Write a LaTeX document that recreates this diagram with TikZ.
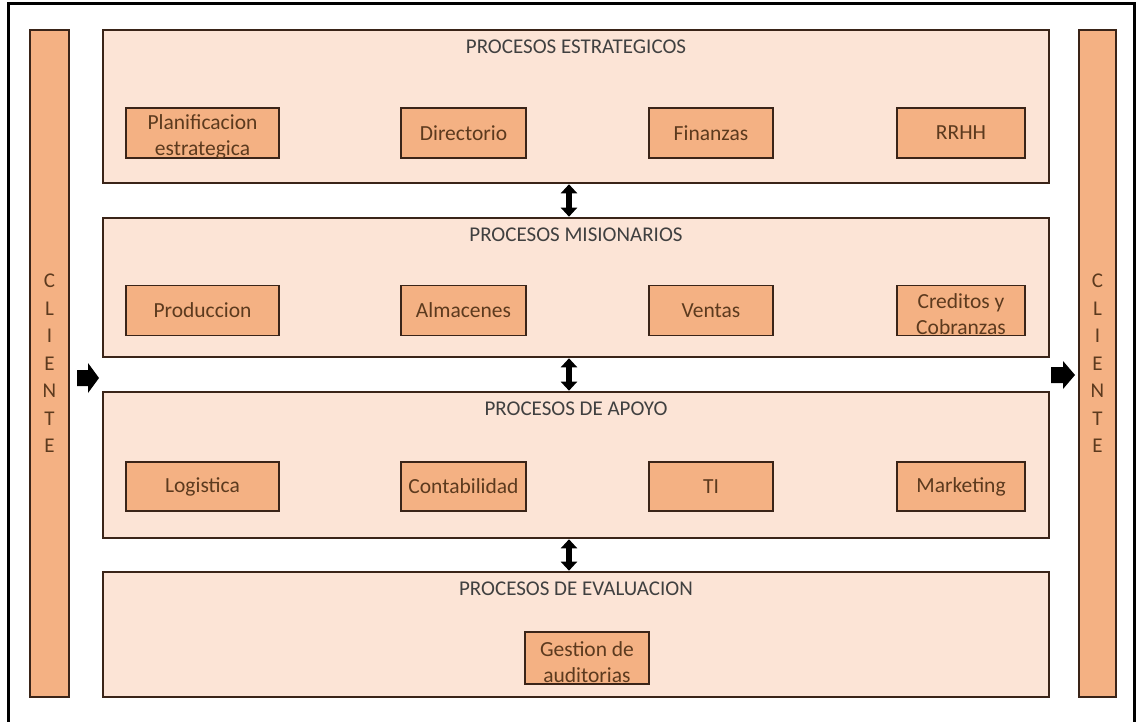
\documentclass[tikz,border=0pt]{standalone}
\usepackage{fontspec}
\setmainfont{Carlito}
\usetikzlibrary{arrows.meta}
\definecolor{peach}{HTML}{FCE4D6}
\definecolor{orangebox}{HTML}{F4B183}
\definecolor{edge}{HTML}{3A2418}
\definecolor{boxtext}{HTML}{5C3A1E}
\definecolor{titletext}{HTML}{404040}
\tikzset{
  bigbox/.style={draw=edge, line width=1.6pt, fill=peach, inner sep=0pt},
  procbox/.style={draw=edge, line width=1.8pt, fill=orangebox, inner sep=0pt, align=center,
    text=boxtext, font=\fontsize{21.5}{26}\selectfont},
  proctext/.style={inner sep=0pt, align=center, text=boxtext, font=\fontsize{21.5}{26}\selectfont},
  clientebar/.style={draw=edge, line width=1.6pt, fill=orangebox, inner sep=0pt, align=center,
    text=boxtext, font=\fontsize{21}{27.5}\selectfont},
  title/.style={text=titletext, font=\fontsize{21}{24}\selectfont, inner sep=0pt, anchor=north},
  dblarrow/.style={line width=5.5pt, {Triangle[length=9pt,width=16pt]}-{Triangle[length=9pt,width=16pt]}, shorten <=0.5pt, shorten >=0.5pt}
}
\begin{document}
\begin{tikzpicture}[x=1pt,y=-1pt]
\useasboundingbox (0,0) rectangle (1136,722);
\fill[white] (0,0) rectangle (1136,722);
% outer frame
\begin{scope}
\clip (0,0) rectangle (1136,722);
\draw[line width=3pt, black] (8,4) rectangle (1134,730);
\end{scope}
% cliente bars
\node[clientebar, minimum width=39pt, minimum height=667pt] (clL) at (49.5,363.5) {C\\L\\I\\E\\N\\T\\E};
\node[clientebar, minimum width=37pt, minimum height=667pt] (clR) at (1097.5,363.5) {C\\L\\I\\E\\N\\T\\E};
% big process boxes
\node[bigbox, minimum width=946pt, minimum height=153pt] (est) at (576,106.5) {};
\node[bigbox, minimum width=946pt, minimum height=139pt] (mis) at (576,287.5) {};
\node[bigbox, minimum width=946pt, minimum height=146pt] (apo) at (576,465) {};
\node[bigbox, minimum width=946pt, minimum height=125pt] (eva) at (576,634.5) {};
% titles
\node[title] (t1) at ([yshift=-10pt]est.north) {PROCESOS ESTRATEGICOS};
\node[title] (t2) at ([yshift=-10pt]mis.north) {PROCESOS MISIONARIOS};
\node[title] (t3) at ([yshift=-10pt]apo.north) {PROCESOS DE APOYO};
\node[title] (t4) at ([yshift=-10pt]eva.north) {PROCESOS DE EVALUACION};
% row 1
\node[procbox, minimum width=153pt, minimum height=50pt] (plan) at (202.5,133) {};
\node[proctext] (plant) at (202.5,137) {Planificacion\\estrategica};
\node[procbox, minimum width=125pt, minimum height=50pt] (dir) at (463.5,133) {Directorio};
\node[procbox, minimum width=124pt, minimum height=50pt] (fin) at (711,133) {Finanzas};
\node[procbox, minimum width=128pt, minimum height=50pt] (rrhh) at (961,133) {RRHH};
% row 2
\node[procbox, minimum width=153pt, minimum height=50pt] (prod) at (202.5,310.5) {Produccion};
\node[procbox, minimum width=125pt, minimum height=50pt] (alm) at (463.5,310.5) {Almacenes};
\node[procbox, minimum width=124pt, minimum height=50pt] (ven) at (711,310.5) {Ventas};
\node[procbox, minimum width=128pt, minimum height=50pt] (cre) at (961,310.5) {};
\node[proctext] (cret) at (961,314) {Creditos y\\Cobranzas};
% row 3
\node[procbox, minimum width=153pt, minimum height=49pt] (log) at (202.5,486.5) {Logistica};
\node[procbox, minimum width=125pt, minimum height=49pt] (con) at (463.5,486.5) {Contabilidad};
\node[procbox, minimum width=124pt, minimum height=49pt] (ti) at (711,486.5) {TI};
\node[procbox, minimum width=128pt, minimum height=49pt] (mkt) at (961,486.5) {Marketing};
% row 4
\node[procbox, minimum width=124pt, minimum height=52pt] (ges) at (587,658) {};
\node[proctext] (gest) at (587,662) {Gestion de\\auditorias};
% double arrows
\draw[dblarrow] ([xshift=-7pt]est.south) -- ([xshift=-7pt]mis.north);
\draw[dblarrow] ([xshift=-7pt]mis.south) -- ([xshift=-7pt]apo.north);
\draw[dblarrow] ([xshift=-7pt]apo.south) -- ([xshift=-7pt]eva.north);
% block arrows
\coordinate (aL) at (77,378);
\coordinate (aR) at (1051,375);
\fill[black] (aL) ++(0,-8) -- ++(11,0) -- ++(0,-7) -- ++(11,15) -- ++(-11,15) -- ++(0,-7) -- ++(-11,0) -- cycle;
\fill[black] (aR) ++(0,-8) -- ++(12,0) -- ++(0,-6) -- ++(12,14) -- ++(-12,14) -- ++(0,-6) -- ++(-12,0) -- cycle;
\end{tikzpicture}
\end{document}
